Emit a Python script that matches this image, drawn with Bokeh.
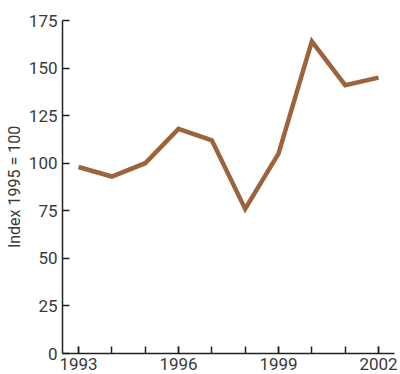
from bokeh.plotting import figure
from bokeh.models import FixedTicker, Range1d
from bokeh.embed import file_html
from bokeh.resources import INLINE

years = [1993, 1994, 1995, 1996, 1997, 1998, 1999, 2000, 2001, 2002]
index_values = [98, 93, 100, 118, 112, 76, 105, 164, 141, 145]
x_labeled_ticks = [1993, 1996, 1999, 2002]
y_ticks = [0, 25, 50, 75, 100, 125, 150, 175]

p = figure(width=398, height=373, output_backend="svg", toolbar_location=None,
           x_range=Range1d(1992.52, 2002.48), y_range=Range1d(0, 175),
           min_border_left=62, min_border_right=4, min_border_top=20, min_border_bottom=20)
p.outline_line_color = None
p.xgrid.visible = False
p.ygrid.visible = False
p.background_fill_color = "white"

p.line(years, index_values, line_color="#9C643C", line_width=4.5, line_join="miter")

txt = "#3a3a3a"
for ax in (p.xaxis[0], p.yaxis[0]):
    ax.axis_line_color = "#222222"
    ax.axis_line_width = 1.5
    ax.major_tick_line_color = "#222222"
    ax.major_tick_line_width = 1.5
    ax.minor_tick_line_color = "#222222"
    ax.minor_tick_line_width = 1.5
    ax.major_tick_in = 7
    ax.major_tick_out = 0
    ax.major_label_text_font = "Roboto"
    ax.major_label_text_font_size = "17px"
    ax.major_label_text_color = txt

p.xaxis.ticker = FixedTicker(ticks=x_labeled_ticks, minor_ticks=years)
p.xaxis.minor_tick_in = 7
p.xaxis.minor_tick_out = 0
p.xaxis.major_label_standoff = 4

p.yaxis.ticker = FixedTicker(ticks=y_ticks, minor_ticks=[])
p.yaxis.minor_tick_in = 0
p.yaxis.minor_tick_out = 0
p.yaxis.major_label_standoff = 5
p.yaxis.axis_label = "Index 1995 = 100"
p.yaxis.axis_label_text_font = "Roboto"
p.yaxis.axis_label_text_font_style = "normal"
p.yaxis.axis_label_text_font_size = "16px"
p.yaxis.axis_label_text_color = txt
p.yaxis.axis_label_standoff = 2

open("out.html", "w").write(file_html(p, INLINE))
